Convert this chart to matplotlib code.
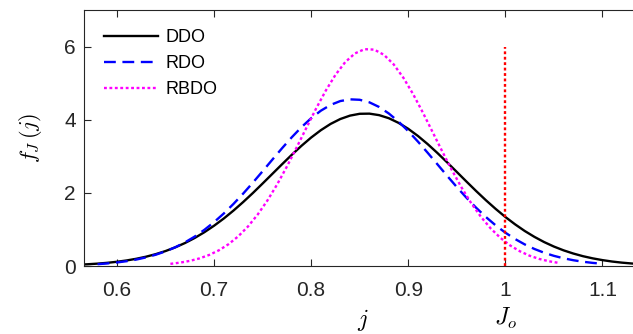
import numpy as np
import matplotlib
matplotlib.use("Agg")
import matplotlib.pyplot as plt
from matplotlib.transforms import blended_transform_factory

# Sampled density curves f_J(j) for the three design approaches
j_ddo = np.round(np.arange(0.56, 1.1401, 0.01), 3)
f_ddo = [0.035, 0.048, 0.065, 0.087, 0.116, 0.152, 0.198, 0.255, 0.325, 0.409,
         0.510, 0.628, 0.766, 0.924, 1.102, 1.299, 1.516, 1.750, 1.997, 2.256,
         2.519, 2.782, 3.040, 3.286, 3.513, 3.714, 3.885, 4.019, 4.112, 4.162,
         4.166, 4.125, 4.041, 3.914, 3.751, 3.555, 3.333, 3.091, 2.835, 2.572,
         2.308, 2.048, 1.798, 1.562, 1.341, 1.140, 0.957, 0.796, 0.654, 0.532,
         0.428, 0.341, 0.268, 0.209, 0.161, 0.122, 0.092, 0.069, 0.051]

j_rdo = np.round(np.arange(0.58, 1.1001, 0.01), 3)
f_rdo = [0.050, 0.070, 0.097, 0.132, 0.177, 0.236, 0.309, 0.401, 0.512, 0.646,
         0.804, 0.989, 1.200, 1.436, 1.698, 1.981, 2.281, 2.592, 2.908, 3.220,
         3.519, 3.796, 4.042, 4.247, 4.405, 4.510, 4.557, 4.545, 4.475, 4.348,
         4.170, 3.948, 3.688, 3.401, 3.096, 2.782, 2.467, 2.159, 1.865, 1.591,
         1.339, 1.112, 0.912, 0.738, 0.590, 0.465, 0.362, 0.278, 0.211, 0.158,
         0.116, 0.085, 0.061]

j_rbdo = np.round(np.arange(0.655, 1.0551, 0.01), 3)
f_rbdo = [0.059, 0.092, 0.140, 0.208, 0.303, 0.430, 0.598, 0.814, 1.083, 1.410,
          1.794, 2.233, 2.720, 3.240, 3.775, 4.301, 4.794, 5.226, 5.573, 5.812,
          5.929, 5.916, 5.774, 5.512, 5.146, 4.700, 4.198, 3.667, 3.134, 2.620,
          2.141, 1.712, 1.339, 1.025, 0.767, 0.561, 0.402, 0.281, 0.193, 0.129,
          0.085]

series_labels = ["DDO", "RDO", "RBDO"]
j_target = 1.0
target_height = 6.0
x_ticks = [0.6, 0.7, 0.8, 0.9, 1.0, 1.1]
x_ticklabels = ["0.6", "0.7", "0.8", "0.9", "1", "1.1"]
y_ticks = [0, 2, 4, 6]

plt.rcParams["font.family"] = ["Liberation Sans", "DejaVu Sans"]
plt.rcParams["mathtext.fontset"] = "cm"

fig = plt.figure(figsize=(6.33, 3.34), dpi=100)
ax = fig.add_axes([84 / 633, 1 - 266 / 334, 1 - 84 / 633, (266 - 10) / 334])

lw = 1.7
dotted = (0, (1.2, 1.1))
ax.plot(j_ddo, f_ddo, color="black", lw=lw, label=series_labels[0])
ax.plot(j_rdo, f_rdo, color=(0, 0, 1), lw=lw, linestyle=(0, (5, 2.8)),
        label=series_labels[1])
ax.plot(j_rbdo, f_rbdo, color=(1, 0, 1), lw=lw, linestyle=dotted,
        label=series_labels[2])
ax.plot([j_target, j_target], [0, target_height], color=(1, 0, 0), lw=lw,
        linestyle=dotted)

ax.set_xlim(0.566, 1.1315)
ax.set_ylim(0, 7)
ax.set_xticks(x_ticks)
ax.set_xticklabels(x_ticklabels)
ax.set_yticks(y_ticks)

axis_gray = "#262626"
for side in ["left", "bottom", "top"]:
    ax.spines[side].set_color(axis_gray)
    ax.spines[side].set_linewidth(0.8)
ax.spines["right"].set_visible(False)
ax.tick_params(direction="in", length=5, width=0.8, color=axis_gray,
               labelsize=15, labelcolor=axis_gray, top=True, pad=6)
ax.tick_params(axis="x", pad=11)

ax.set_ylabel(r"$f_J\,(j)$", fontsize=16, labelpad=14)

tr = blended_transform_factory(ax.transData, ax.transAxes)
ax.text(0.8536, -0.21, r"$j$", transform=tr, fontsize=17,
        ha="center", va="center")
ax.text(j_target, -0.205, r"$J_o$", transform=tr, fontsize=17,
        ha="center", va="center")

ax.legend(loc="upper left", bbox_to_anchor=(20 / 548, 0.925), frameon=False,
          fontsize=13, handlelength=3.0, handletextpad=0.4,
          labelspacing=0.5, borderpad=0, borderaxespad=0)

fig.savefig("out.png", dpi=100)
